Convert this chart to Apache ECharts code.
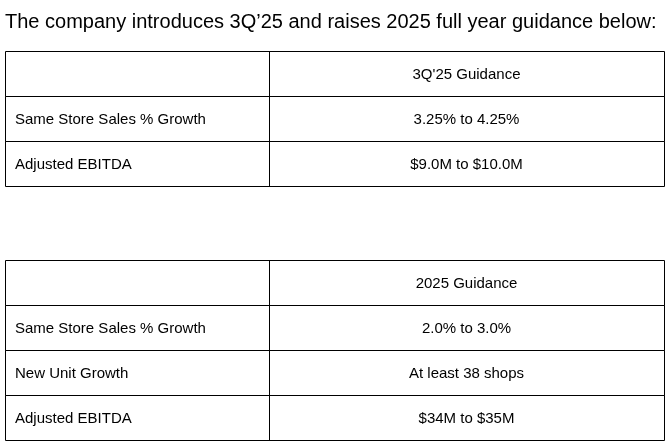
<!DOCTYPE html>
<html><head><meta charset="utf-8">
<script src="https://cdn.jsdelivr.net/npm/echarts@6/dist/echarts.min.js"></script>
<style>html,body{margin:0;padding:0;background:#fff}#c{width:671px;height:448px}</style>
</head><body><div id="c"></div>
<script>
var title = "The company introduces 3Q’25 and raises 2025 full year guidance below:";
var table1Header = ["", "3Q'25 Guidance"];
var table1Labels = ["Same Store Sales % Growth", "Adjusted EBITDA"];
var table1Values = ["3.25% to 4.25%", "$9.0M to $10.0M"];
var table2Header = ["", "2025 Guidance"];
var table2Labels = ["Same Store Sales % Growth", "New Unit Growth", "Adjusted EBITDA"];
var table2Values = ["2.0% to 3.0%", "At least 38 shops", "$34M to $35M"];

var chart = echarts.init(document.getElementById('c'));
var L = 5, R = 664, D = 269, RH = 45;
var font = '15px "Liberation Sans", Arial, sans-serif';
function table(top, header, labels, values) {
  var els = [];
  var rows = [header].concat(labels.map(function(l, i){ return [l, values[i]]; }));
  rows.forEach(function(r, i) {
    var y = top + i * RH;
    els.push({type:'rect', shape:{x:L+0.5,y:y+0.5,width:R-L,height:RH}, style:{fill:'none',stroke:'#000',lineWidth:1}});
    els.push({type:'line', shape:{x1:D+0.5,y1:y,x2:D+0.5,y2:y+RH}, style:{stroke:'#000',lineWidth:1}});
    if (r[0]) els.push({type:'text', x:15, y:y+RH/2+1, style:{text:r[0], font:font, fill:'#000', verticalAlign:'middle'}});
    els.push({type:'text', x:(D+R)/2, y:y+RH/2+1, style:{text:r[1], font:font, fill:'#000', align:'center', verticalAlign:'middle'}});
  });
  return els;
}
var g = [{type:'text', x:5, y:22, style:{text:title, font:'20px "Liberation Sans", Arial, sans-serif', fill:'#000', verticalAlign:'middle'}}]
  .concat(table(51, table1Header, table1Labels, table1Values))
  .concat(table(260, table2Header, table2Labels, table2Values));
chart.setOption({animation:false, graphic:g});
</script></body></html>
